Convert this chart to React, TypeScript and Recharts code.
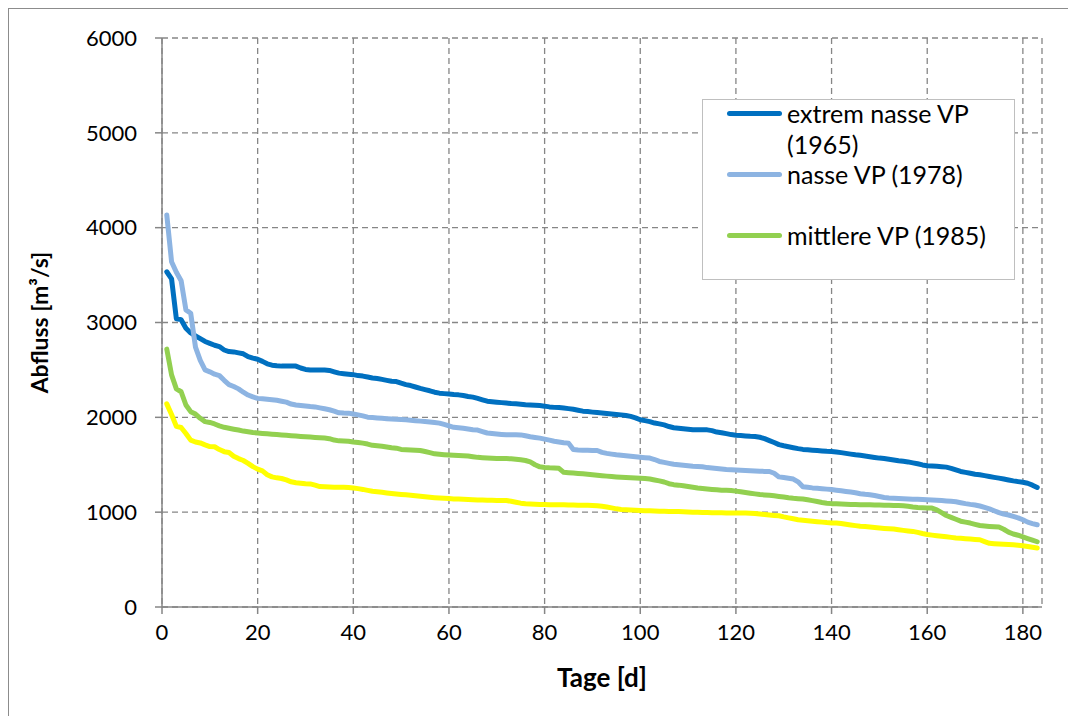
import React from 'react';
import { LineChart, Line, XAxis, YAxis, CartesianGrid, Legend } from 'recharts';

const FONT = 'Lato, "Open Sans", sans-serif';

const seriesNames = ['extrem nasse VP (1965)', 'nasse VP (1978)', 'mittlere VP (1985)', 'trockene VP'];
const seriesColors = ['#0070C0', '#8DB4E2', '#92D050', '#FFFF00'];

const xTicks = [0, 20, 40, 60, 80, 100, 120, 140, 160, 180];
const yTicks = [0, 1000, 2000, 3000, 4000, 5000, 6000];

const extrem1965 = [
  3535, 3460, 3040, 3030, 2940, 2890, 2860, 2830, 2800, 2780,
  2760, 2746, 2710, 2693, 2690, 2680, 2670, 2640, 2624, 2613,
  2590, 2564, 2550, 2543, 2540, 2540, 2540, 2540, 2520, 2505,
  2500, 2500, 2500, 2500, 2495, 2480, 2466, 2460, 2455, 2450,
  2440, 2435, 2425, 2415, 2410, 2400, 2390, 2380, 2377, 2360,
  2345, 2335, 2320, 2305, 2292, 2280, 2265, 2255, 2250, 2245,
  2240, 2237, 2230, 2220, 2213, 2200, 2185, 2170, 2165, 2160,
  2155, 2150, 2145, 2142, 2138, 2133, 2130, 2127, 2124, 2118,
  2110, 2105, 2103, 2098, 2092, 2085, 2075, 2065, 2061, 2055,
  2050, 2045, 2040, 2035, 2030, 2026, 2020, 2010, 1995, 1975,
  1965, 1955, 1940, 1931, 1920, 1903, 1890, 1886, 1880, 1875,
  1870, 1868, 1868, 1868, 1860, 1845, 1838, 1828, 1818, 1812,
  1808, 1804, 1800, 1798, 1790, 1775, 1755, 1735, 1712, 1700,
  1690, 1680, 1670, 1662, 1658, 1654, 1650, 1646, 1642, 1640,
  1635, 1628, 1620, 1612, 1605, 1600, 1593, 1585, 1577, 1570,
  1565, 1558, 1550, 1542, 1536, 1530, 1520, 1510, 1498, 1490,
  1488, 1484, 1480, 1475, 1462, 1445, 1429, 1420, 1410, 1400,
  1394, 1385, 1376, 1367, 1359, 1350, 1340, 1330, 1322, 1315,
  1305, 1285, 1260,
];

const nasse1978 = [
  4134, 3641, 3530, 3440, 3133, 3098, 2740, 2600, 2500, 2480,
  2455, 2440, 2390, 2345, 2325, 2300, 2265, 2235, 2215, 2200,
  2195, 2190, 2186, 2180, 2170, 2160, 2140, 2130, 2125, 2120,
  2114, 2110, 2100, 2090, 2080, 2065, 2048, 2045, 2044, 2035,
  2026, 2015, 2002, 1998, 1994, 1990, 1986, 1983, 1980, 1977,
  1974, 1970, 1965, 1960, 1955, 1950, 1945, 1939, 1925, 1910,
  1895, 1890, 1885, 1878, 1870, 1866, 1850, 1835, 1830, 1825,
  1820, 1816, 1816, 1816, 1815, 1805, 1795, 1788, 1781, 1770,
  1760, 1748, 1740, 1733, 1728, 1660, 1656, 1654, 1652, 1651,
  1650, 1630, 1620, 1612, 1605, 1600, 1595, 1590, 1585, 1580,
  1575, 1570, 1555, 1535, 1525, 1515, 1505, 1500, 1495, 1490,
  1485, 1482, 1478, 1470, 1465, 1460, 1455, 1450, 1447, 1445,
  1442, 1440, 1437, 1435, 1432, 1430, 1429, 1410, 1372, 1365,
  1357, 1349, 1320, 1268, 1262, 1256, 1252, 1248, 1243, 1238,
  1232, 1225, 1218, 1212, 1205, 1195, 1188, 1183, 1175, 1165,
  1155, 1149, 1146, 1143, 1141, 1139, 1137, 1135, 1133, 1131,
  1128, 1125, 1122, 1118, 1114, 1110, 1100, 1090, 1082, 1076,
  1065, 1050, 1035, 1015, 995, 980, 970, 955, 940, 920,
  895, 880, 867,
];

const mittlere1985 = [
  2719, 2448, 2300, 2270, 2130, 2060, 2035, 1990, 1955, 1946,
  1930, 1910, 1895, 1885, 1875, 1866, 1855, 1847, 1840, 1835,
  1830, 1826, 1822, 1818, 1814, 1810, 1806, 1802, 1798, 1795,
  1792, 1788, 1785, 1781, 1775, 1760, 1752, 1750, 1748, 1740,
  1735, 1728, 1718, 1705, 1700, 1695, 1688, 1680, 1675, 1662,
  1658, 1655, 1652, 1650, 1640, 1628, 1615, 1610, 1606, 1602,
  1599, 1597, 1595, 1592, 1585, 1578, 1574, 1571, 1569, 1567,
  1566, 1565, 1562, 1558, 1552, 1545, 1530, 1500, 1478, 1472,
  1468, 1466, 1462, 1420, 1416, 1412, 1408, 1404, 1400, 1395,
  1390, 1385, 1380, 1376, 1372, 1369, 1366, 1363, 1360, 1357,
  1355, 1350, 1340, 1330, 1318, 1300, 1290, 1285, 1278, 1270,
  1262, 1255, 1250, 1245, 1240, 1236, 1232, 1230, 1228, 1222,
  1215, 1208, 1200, 1193, 1186, 1182, 1178, 1172, 1166, 1160,
  1152, 1146, 1142, 1138, 1130, 1122, 1112, 1102, 1094, 1090,
  1088, 1086, 1084, 1082, 1080, 1079, 1078, 1077, 1076, 1075,
  1074, 1072, 1070, 1069, 1067, 1062, 1055, 1050, 1047, 1045,
  1043, 1025, 995, 965, 945, 925, 905, 895, 885, 872,
  860, 855, 850, 846, 843, 820, 790, 770, 757, 740,
  722, 705, 688,
];

const trockene = [
  2142, 2030, 1905, 1893, 1830, 1760, 1740, 1730, 1710, 1692,
  1690, 1660, 1638, 1630, 1590, 1565, 1545, 1515, 1480, 1454,
  1435, 1395, 1372, 1362, 1355, 1340, 1320, 1310, 1305, 1300,
  1298, 1285, 1270, 1268, 1266, 1264, 1263, 1262, 1260, 1255,
  1248, 1240, 1230, 1220, 1215, 1210, 1203, 1197, 1192, 1187,
  1183, 1178, 1172, 1167, 1162, 1158, 1153, 1149, 1146, 1143,
  1140, 1138, 1135, 1133, 1131, 1129, 1127, 1126, 1125, 1124,
  1123, 1122, 1115, 1105, 1095, 1089, 1086, 1083, 1081, 1080,
  1079, 1078, 1078, 1077, 1076, 1075, 1074, 1073, 1072, 1071,
  1068, 1062, 1055, 1045, 1035, 1028, 1025, 1022, 1020, 1018,
  1016, 1014, 1012, 1010, 1009, 1008, 1007, 1006, 1004, 1002,
  1000, 998, 997, 996, 995, 994, 993, 992, 991, 990,
  990, 990, 988, 985, 980, 975, 970, 966, 962, 950,
  940, 930, 920, 915, 910, 905, 900, 895, 890, 887,
  885, 880, 872, 865, 858, 852, 848, 843, 838, 833,
  829, 825, 822, 815, 808, 802, 797, 787, 775, 765,
  758, 752, 746, 740, 734, 728, 724, 720, 716, 712,
  709, 690, 672, 668, 664, 661, 658, 656, 652, 646,
  638, 630, 622,
];

const data = extrem1965.map((v, i) => ({
  day: i + 1,
  ex: v,
  na: nasse1978[i],
  mi: mittlere1985[i],
  tr: trockene[i],
}));

const LegendBox = (props: any) => {
  const items = (props.payload || [])
    .filter((p: any) => p.type !== 'none' && seriesNames.indexOf(p.value) >= 0 && p.value !== seriesNames[3])
    .slice()
    .sort((a: any, b: any) => seriesNames.indexOf(a.value) - seriesNames.indexOf(b.value));
  return (
    <div
      style={{
        width: 313,
        height: 181,
        border: '1.5px solid #BFBFBF',
        background: '#fff',
        boxSizing: 'border-box',
        fontFamily: FONT,
        fontSize: 25,
        color: '#000',
      }}
    >
      {items.map((it: any, i: number) => (
        <div key={i} style={{ position: 'relative', height: 61 }}>
          <div
            style={{
              position: 'absolute',
              left: 24,
              top: 11,
              width: 55,
              height: 5,
              borderRadius: 3,
              background: it.color,
            }}
          />
          <div
            style={{
              position: 'absolute',
              left: 84,
              top: -2,
              width: 218,
              lineHeight: '31px',
              whiteSpace: 'normal',
            }}
          >
            {it.value}
          </div>
        </div>
      ))}
    </div>
  );
};

export default function App() {
  return (
    <div
      style={{
        width: 1059,
        height: 707,
        overflow: 'hidden',
        borderLeft: '1px solid #8C8C8C',
        borderTop: '1px solid #8C8C8C',
        background: '#fff',
        fontFamily: FONT,
      }}
    >
      <LineChart
        width={1067}
        height={715}
        data={data}
        margin={{ top: 29, right: 34, left: 23, bottom: 27 }}
        style={{ fontFamily: FONT }}
      >
        <CartesianGrid
          stroke="#868686"
          strokeWidth={1.3}
          strokeDasharray="6 4"
          horizontal
          vertical
        />
        <XAxis
          dataKey="day"
          type="number"
          domain={[0, 184]}
          ticks={xTicks}
          interval={0}
          height={90}
          tickSize={7}
          tickMargin={10}
          axisLine={{ stroke: '#868686', strokeWidth: 1.5 }}
          tickLine={{ stroke: '#868686', strokeWidth: 1.5 }}
          tick={{ fill: '#000', fontSize: 22, fontFamily: FONT }}
          label={{
            value: 'Tage [d]',
            position: 'insideBottom',
            offset: 10,
            fill: '#000',
            fontSize: 26,
            fontWeight: 'bold',
            fontFamily: FONT,
          }}
        />
        <YAxis
          type="number"
          domain={[0, 6000]}
          ticks={yTicks}
          interval={0}
          width={130}
          tickSize={7}
          tickMargin={18}
          axisLine={{ stroke: '#868686', strokeWidth: 1.5 }}
          tickLine={{ stroke: '#868686', strokeWidth: 1.5 }}
          tick={{ fill: '#000', fontSize: 22, fontFamily: FONT }}
          label={{
            value: 'Abfluss [m³/s]',
            angle: -90,
            position: 'center',
            dx: -57,
            fill: '#000',
            fontSize: 23,
            fontWeight: 'bold',
            fontFamily: FONT,
          }}
        />
        <Legend
          layout="vertical"
          align="center"
          verticalAlign="middle"
          width={313}
          height={181}
          wrapperStyle={{ left: 693, top: 90, width: 313, height: 181 }}
          content={<LegendBox />}
        />
        <Line type="linear" dataKey="ex" name={seriesNames[0]} stroke={seriesColors[0]} strokeWidth={5} dot={false} isAnimationActive={false} strokeLinejoin="round" strokeLinecap="round" />
        <Line type="linear" dataKey="na" name={seriesNames[1]} stroke={seriesColors[1]} strokeWidth={5} dot={false} isAnimationActive={false} strokeLinejoin="round" strokeLinecap="round" />
        <Line type="linear" dataKey="mi" name={seriesNames[2]} stroke={seriesColors[2]} strokeWidth={5} dot={false} isAnimationActive={false} strokeLinejoin="round" strokeLinecap="round" />
        <Line type="linear" dataKey="tr" name={seriesNames[3]} stroke={seriesColors[3]} strokeWidth={5} dot={false} isAnimationActive={false} strokeLinejoin="round" strokeLinecap="round" legendType="none" />
      </LineChart>
    </div>
  );
}
